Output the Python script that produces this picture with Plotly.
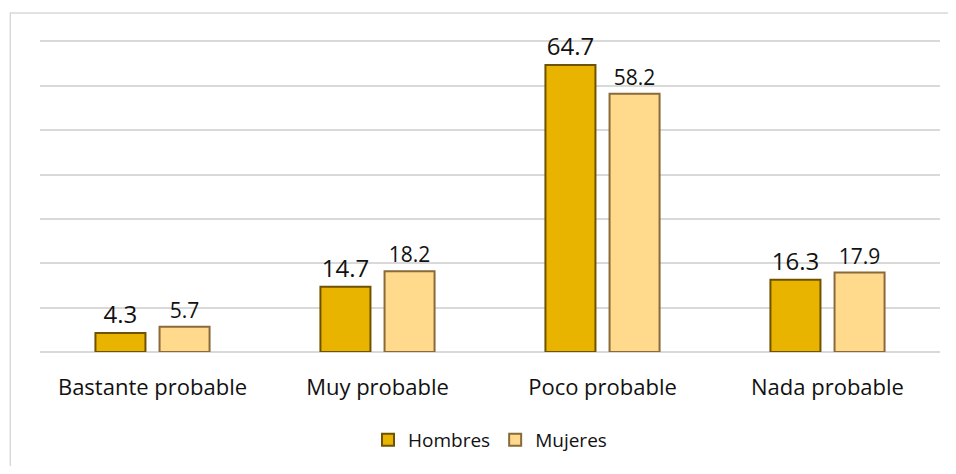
import plotly.graph_objects as go

categorias = ["Bastante probable", "Muy probable", "Poco probable", "Nada probable"]
hombres = [4.3, 14.7, 64.7, 16.3]
mujeres = [5.7, 18.2, 58.2, 17.9]

fig = go.Figure()
fig.add_trace(go.Bar(
    x=categorias, y=hombres, name="Hombres",
    marker=dict(color="#E9B400", line=dict(color="#6E5200", width=2)),
    text=[f"{v:.1f}" for v in hombres], textposition="outside",
    textfont=dict(size=24, color="#111111"), cliponaxis=False,
))
fig.add_trace(go.Bar(
    x=categorias, y=mujeres, name="Mujeres",
    marker=dict(color="#FFD98C", line=dict(color="#8A6A3A", width=2)),
    text=[f"{v:.1f}" for v in mujeres], textposition="outside",
    textfont=dict(size=21, color="#111111"), cliponaxis=False,
))

# la página añade 8px de margen, por eso la figura es algo más pequeña
fig.update_layout(
    width=940, height=458,
    margin=dict(l=32, r=8, t=29, b=113),
    paper_bgcolor="white", plot_bgcolor="white",
    font=dict(family="Open Sans, DejaVu Sans, sans-serif", color="#111111"),
    barmode="group", bargap=0.43, bargroupgap=0.22,
    showlegend=True,
    legend=dict(orientation="h", x=0.5, xanchor="center", y=-0.275, yanchor="middle",
                font=dict(size=19), itemwidth=30),
)
fig.update_yaxes(range=[0, 71], dtick=10, showticklabels=False,
                 gridcolor="#D9D9D9", gridwidth=1.5, zeroline=True,
                 zerolinecolor="#D9D9D9", zerolinewidth=1.5)
fig.update_xaxes(tickfont=dict(size=22), showline=False, ticks="",
                 ticklabelstandoff=20)

# marco del gráfico
fig.add_shape(type="rect", xref="paper", yref="paper",
              x0=-0.033, x1=1.05, y0=-0.5, y1=1.076,
              line=dict(color="#D9D9D9", width=1.5))

fig.write_html("out.html")
